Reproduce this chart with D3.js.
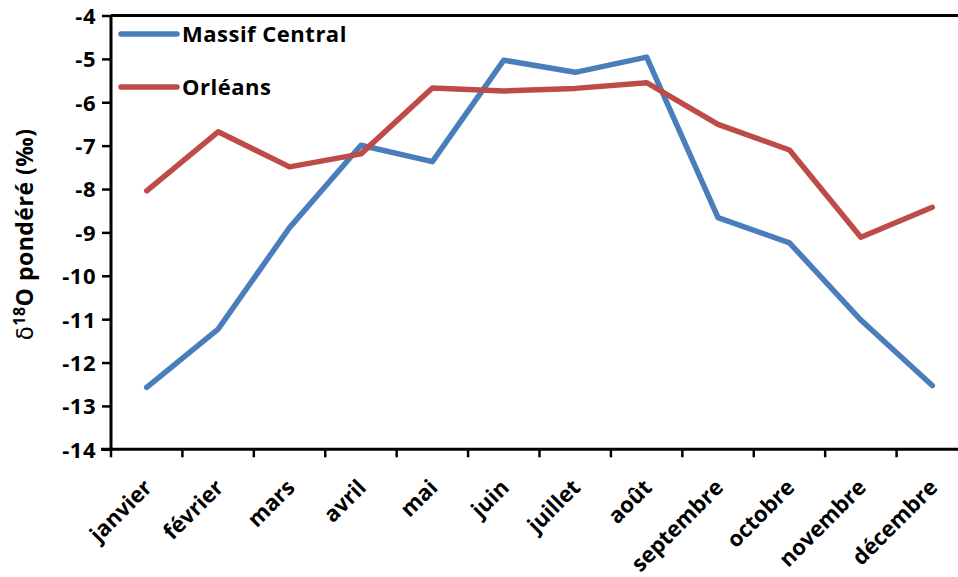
<!DOCTYPE html>
<html>
<head>
<meta charset="utf-8">
<script src="https://cdn.jsdelivr.net/npm/d3@7"></script>
<style>
  html, body { margin: 0; padding: 0; background: #fff; }
  svg { display: block; }
  text { font-family: "Open Sans", Lato, sans-serif; font-weight: bold; fill: #000; }
</style>
</head>
<body>
<svg id="chart" width="958" height="577"></svg>
<script>
// Monthly weighted δ18O of precipitation (‰)
const months = ["janvier", "février", "mars", "avril", "mai", "juin", "juillet", "août", "septembre", "octobre", "novembre", "décembre"];
const massifCentral = [-12.57, -11.23, -8.89, -6.99, -7.37, -5.03, -5.31, -4.96, -8.66, -9.24, -11.02, -12.53];
const orleans = [-8.04, -6.68, -7.49, -7.19, -5.67, -5.74, -5.68, -5.55, -6.51, -7.10, -9.11, -8.42];
const seriesNames = ["Massif Central", "Orléans"];
const seriesColors = ["#4A7EBB", "#BE4B48"];
const yTicks = [-14, -13, -12, -11, -10, -9, -8, -7, -6, -5, -4];

const svg = d3.select("#chart");
const plotLeft = 111, plotRight = 968, plotTop = 15.5, plotBottom = 449.3;
const fontSize = "22px";
const spacing = "0.5px";

const x = d3.scaleBand().domain(months).range([plotLeft, plotRight]);
const y = d3.scaleLinear().domain([-14, -4]).range([plotBottom, plotTop]);
const cx = m => x(m) + x.bandwidth() / 2;

// top frame line of the plot area
svg.append("line")
  .attr("x1", plotLeft).attr("x2", 958)
  .attr("y1", y(-4)).attr("y2", y(-4))
  .attr("stroke", "#000").attr("stroke-width", 3);

// y axis
const yAxis = svg.append("g")
  .attr("transform", `translate(${plotLeft},0)`)
  .call(d3.axisLeft(y).tickValues(yTicks).tickSize(9).tickPadding(6).tickFormat(d => String(d)));
yAxis.select(".domain").attr("stroke-width", 3).attr("d", `M0,${plotBottom}V${plotTop}`);
yAxis.selectAll(".tick line").attr("stroke-width", 2.5);
yAxis.selectAll(".tick text").style("font-size", fontSize).style("letter-spacing", spacing).attr("dy", "0.36em");

// x axis: ticks sit on band boundaries, labels at band centres
const xg = svg.append("g").attr("transform", `translate(0,${plotBottom})`);
xg.append("line").attr("x1", plotLeft - 10).attr("x2", 958)
  .attr("stroke", "#000").attr("stroke-width", 3);
const boundaries = months.map(m => x(m)).concat([plotRight]);
xg.selectAll("line.tick").data(boundaries).join("line")
  .attr("class", "tick")
  .attr("x1", d => d).attr("x2", d => d)
  .attr("y1", 0).attr("y2", 8)
  .attr("stroke", "#000").attr("stroke-width", 2.5);
xg.selectAll("text.lab").data(months).join("text")
  .attr("class", "lab")
  .attr("transform", m => `translate(${cx(m) + 1},${34}) rotate(-45)`)
  .attr("text-anchor", "end")
  .attr("dy", "0.36em")
  .style("font-size", fontSize)
  .text(m => m);

// y axis title
const title = svg.append("text")
  .attr("transform", `translate(33,${(plotTop + plotBottom) / 2 + 2}) rotate(-90)`)
  .attr("text-anchor", "middle")
  .style("font-size", "23px")
  .style("letter-spacing", spacing);
title.append("tspan").style("font-weight", "normal").style("font-family", "'DejaVu Sans', sans-serif").text("δ");
title.append("tspan").attr("dy", "-8").style("font-size", "16px").text("18");
title.append("tspan").attr("dy", "8").text("O pondéré (‰)");

// series lines
const line = d3.line().x((d, i) => cx(months[i])).y(d => y(d));
[massifCentral, orleans].forEach((vals, k) => {
  svg.append("path")
    .datum(vals)
    .attr("d", line)
    .attr("fill", "none")
    .attr("stroke", seriesColors[k])
    .attr("stroke-width", 5.5)
    .attr("stroke-linejoin", "round")
    .attr("stroke-linecap", "round");
});

// legend
const legend = svg.append("g");
seriesNames.forEach((name, k) => {
  const ly = 34 + k * 53;
  legend.append("line")
    .attr("x1", 121).attr("x2", 177).attr("y1", ly).attr("y2", ly)
    .attr("stroke", seriesColors[k]).attr("stroke-width", 5.5)
    .attr("stroke-linecap", "round");
  legend.append("text")
    .attr("x", 182).attr("y", ly).attr("dy", "0.36em")
    .style("font-size", fontSize)
    .style("letter-spacing", spacing)
    .text(name);
});
</script>
</body>
</html>
